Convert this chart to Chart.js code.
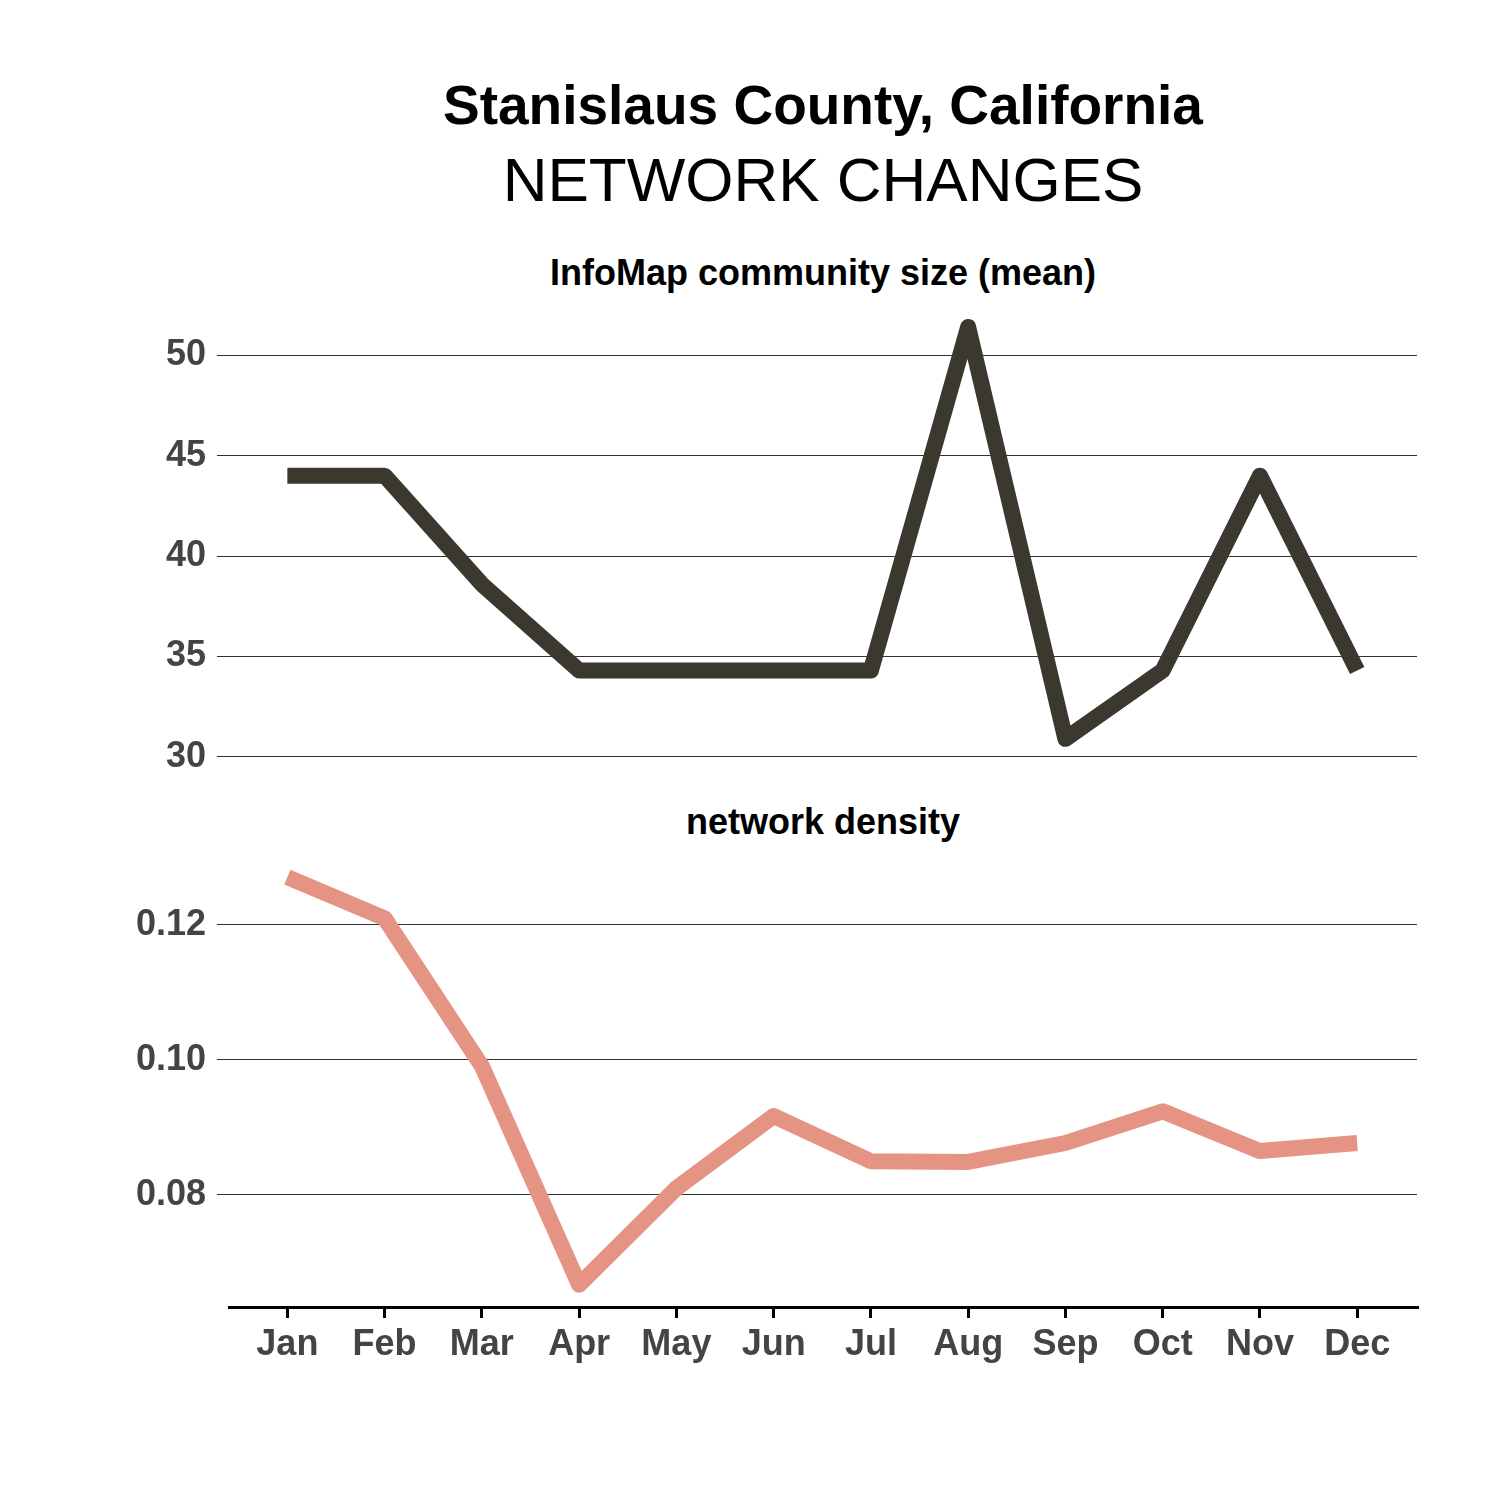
<!DOCTYPE html>
<html>
<head>
<meta charset="utf-8">
<script src="https://cdn.jsdelivr.net/npm/chart.js@4.4.1/dist/chart.umd.min.js"></script>
<style>
  body { margin: 0; background: #fff; }
  #page { position: relative; width: 1500px; height: 1500px; background: #fff; font-family: "Liberation Sans", Arial, sans-serif; }
  .txt { position: absolute; left: 229px; width: 1188px; text-align: center; line-height: 1; color: #000; white-space: nowrap; }
  .box { position: absolute; left: 0; width: 1500px; }
</style>
</head>
<body>
<div id="page">
  <div class="txt" style="top:78px;font-size:55px;font-weight:bold;">Stanislaus County, California</div>
  <div class="txt" style="top:149px;font-size:62px;">NETWORK CHANGES</div>
  <div class="txt" style="top:255px;font-size:36px;font-weight:bold;">InfoMap community size (mean)</div>
  <div class="txt" style="top:804px;font-size:36px;font-weight:bold;">network density</div>
  <div class="box" style="top:300px;height:500px;"><canvas id="topChart" width="1500" height="500"></canvas></div>
  <div class="box" style="top:830px;height:570px;"><canvas id="bottomChart" width="1500" height="570"></canvas></div>
</div>
<script>
// data
const months = ["Jan", "Feb", "Mar", "Apr", "May", "Jun", "Jul", "Aug", "Sep", "Oct", "Nov", "Dec"];
const communitySize = [44.0, 44.0, 38.6, 34.3, 34.3, 34.3, 34.3, 51.4, 30.9, 34.3, 44.0, 34.3];
const density = [0.1271, 0.1210, 0.0991, 0.0667, 0.0810, 0.0917, 0.0850, 0.0849, 0.0877, 0.0924, 0.0865, 0.0877];
const sizeTicks = [30, 35, 40, 45, 50];
const densityTicks = [0.08, 0.10, 0.12];

const tickFont = { family: "'Liberation Sans', Arial, sans-serif", size: 36, weight: "bold" };
const tickColor = "#444444";

// same x range for both panels so the months line up
const xRange = { min: -0.6, max: 11.615 };

const toPoints = (values) => values.map((v, i) => ({ x: i, y: v }));

const yAxis = (min, max, ticks, fmt) => ({
  min: min,
  max: max,
  afterBuildTicks: (scale) => { scale.ticks = ticks.map((v) => ({ value: v })); },
  afterFit: (scale) => {
    scale.width = 229;
    // labels are well inside the plot, no extra room needed above/below
    scale.paddingTop = 0;
    scale.paddingBottom = 0;
  },
  border: { display: false },
  grid: { color: "#333333", lineWidth: 1, drawTicks: true, tickLength: 12, tickColor: "#333333" },
  ticks: { font: tickFont, color: tickColor, padding: 11, callback: fmt },
});

const lineStyle = (color) => ({
  borderColor: color,
  backgroundColor: color,
  borderWidth: 16,
  borderJoinStyle: "round",
  borderCapStyle: "butt",
  pointRadius: 0,
  tension: 0,
  fill: false,
  clip: false,
});

const baseOptions = {
  responsive: false,
  animation: false,
  devicePixelRatio: 1,
  plugins: { legend: { display: false }, tooltip: { enabled: false }, title: { display: false } },
};

// InfoMap community size
new Chart(document.getElementById("topChart"), {
  type: "line",
  data: { datasets: [{ label: "InfoMap community size (mean)", data: toPoints(communitySize), ...lineStyle("#3b3830") }] },
  options: {
    ...baseOptions,
    layout: { padding: { left: 0, right: 83, top: 15, bottom: 23 } },
    scales: {
      x: { type: "linear", display: false, ...xRange },
      y: yAxis(29, 52, sizeTicks, (v) => String(v)),
    },
  },
});

// network density
new Chart(document.getElementById("bottomChart"), {
  type: "line",
  data: { datasets: [{ label: "network density", data: toPoints(density), ...lineStyle("#e59484") }] },
  options: {
    ...baseOptions,
    layout: { padding: { left: 0, right: 83, top: 27.5, bottom: 0 } },
    scales: {
      x: {
        type: "linear",
        ...xRange,
        afterBuildTicks: (scale) => { scale.ticks = months.map((m, i) => ({ value: i })); },
        afterFit: (scale) => {
          scale.height = 93;
          scale.paddingLeft = 0;
          scale.paddingRight = 0;
        },
        border: { display: true, color: "#000000", width: 3 },
        grid: { drawOnChartArea: false, drawTicks: true, tickLength: 11, color: "#000000", lineWidth: 3 },
        ticks: { font: tickFont, color: tickColor, padding: 5, autoSkip: false, maxRotation: 0, callback: (v) => months[v] },
      },
      y: yAxis(0.0634, 0.13, densityTicks, (v) => v.toFixed(2)),
    },
  },
});
</script>
</body>
</html>
